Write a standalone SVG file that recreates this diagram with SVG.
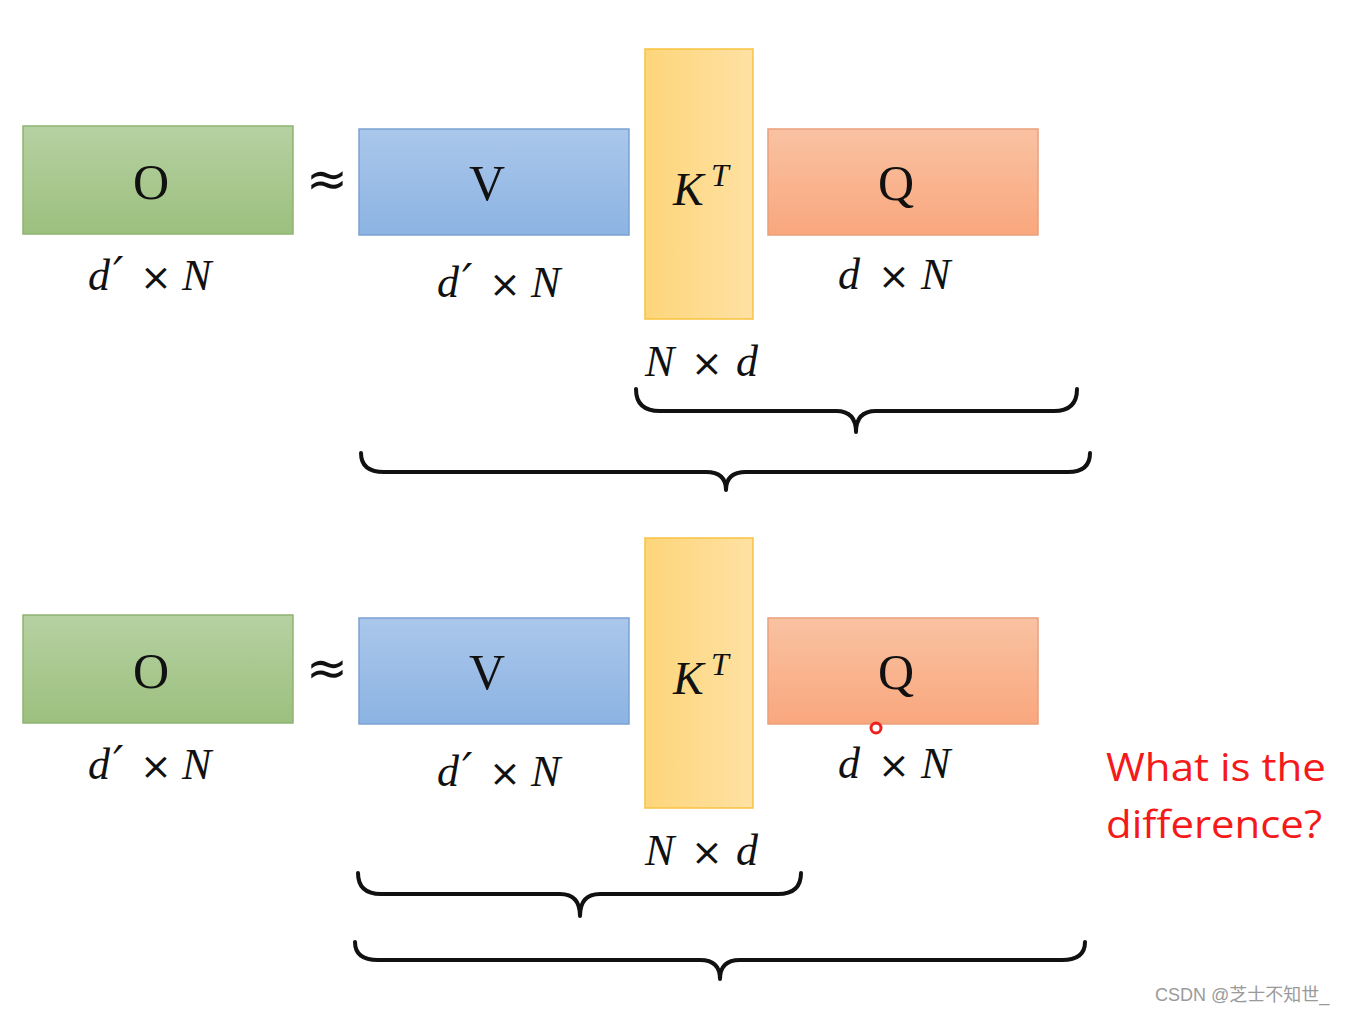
<svg xmlns="http://www.w3.org/2000/svg" width="1352" height="1013" viewBox="0 0 1352 1013">
<defs>
<linearGradient id="gG" x1="0" y1="0" x2="0" y2="1"><stop offset="0" stop-color="#b6d1a2"/><stop offset="1" stop-color="#9cc07e"/></linearGradient>
<linearGradient id="gB" x1="0" y1="0" x2="0" y2="1"><stop offset="0" stop-color="#aac7eb"/><stop offset="1" stop-color="#8cb3e2"/></linearGradient>
<linearGradient id="gY" x1="0" y1="0" x2="1" y2="0"><stop offset="0" stop-color="#fdd57a"/><stop offset="1" stop-color="#fee1a3"/></linearGradient>
<linearGradient id="gO" x1="0" y1="0" x2="0" y2="1"><stop offset="0" stop-color="#f9c2a2"/><stop offset="1" stop-color="#f9a77d"/></linearGradient>
</defs>
<style>
.g{fill:url(#gG);stroke:#8fb472;stroke-width:1.5}
.b{fill:url(#gB);stroke:#7aa2d2;stroke-width:1.5}
.y{fill:url(#gY);stroke:#f7c340;stroke-width:1.5}
.o{fill:url(#gO);stroke:#e9a07c;stroke-width:1.5}
.big{font-family:"Liberation Serif","DejaVu Serif",serif;font-size:50px;fill:#111;text-anchor:middle}
.ap{font-family:"DejaVu Sans","Liberation Serif",serif;font-size:50px;fill:#111;text-anchor:middle}
.it{font-family:"Liberation Serif","DejaVu Serif",serif;font-style:italic;font-size:46px;fill:#111}
.dim{font-family:"Liberation Serif","DejaVu Serif",serif;font-style:italic;font-size:44px;fill:#111}
.x{font-family:"DejaVu Sans","Liberation Sans",sans-serif;font-style:normal;font-size:38px}
.pr{font-family:"DejaVu Serif","Liberation Serif",serif;font-style:italic;font-size:46px}
.br{fill:none;stroke:#111;stroke-width:4;stroke-linecap:round;stroke-linejoin:round}
.red{font-family:"Open Sans","Liberation Sans",sans-serif;font-size:39px;fill:#f51a1a}
.wm{font-family:"Liberation Sans","Noto Sans CJK SC",sans-serif;font-size:18px;fill:#9a9a9a}
</style>
<rect width="1352" height="1013" fill="#ffffff"/>

<g id="top-O"><rect class="g" x="23" y="126" width="270" height="108"/><text class="big" x="151" y="199">O</text><text class="dim" y="290"><tspan x="88">d</tspan><tspan class="pr" x="113">′</tspan><tspan class="x" x="140">×</tspan><tspan x="182">N</tspan></text></g>
<g id="top-approx"><text class="ap" x="327" y="196">≈</text></g>
<g id="top-V"><rect class="b" x="359" y="129" width="270" height="106"/><text class="big" x="487" y="200">V</text><text class="dim" y="297"><tspan x="437">d</tspan><tspan class="pr" x="462">′</tspan><tspan class="x" x="489">×</tspan><tspan x="531">N</tspan></text></g>
<g id="top-K"><rect class="y" x="645" y="49" width="108" height="270"/><text class="it" x="673" y="205">K</text><text class="it" x="711" y="186" style="font-size:32px">T</text><text class="dim" y="376"><tspan x="645">N</tspan><tspan class="x" x="691">×</tspan><tspan x="736">d</tspan></text></g>
<g id="top-Q"><rect class="o" x="768" y="129" width="270" height="106"/><text class="big" x="896" y="200">Q</text><text class="dim" y="289"><tspan x="838">d</tspan><tspan class="x" x="878">×</tspan><tspan x="921">N</tspan></text></g>

<g id="bot-O"><rect class="g" x="23" y="615" width="270" height="108"/><text class="big" x="151" y="688">O</text><text class="dim" y="779"><tspan x="88">d</tspan><tspan class="pr" x="113">′</tspan><tspan class="x" x="140">×</tspan><tspan x="182">N</tspan></text></g>
<g id="bot-approx"><text class="ap" x="327" y="685">≈</text></g>
<g id="bot-V"><rect class="b" x="359" y="618" width="270" height="106"/><text class="big" x="487" y="689">V</text><text class="dim" y="786"><tspan x="437">d</tspan><tspan class="pr" x="462">′</tspan><tspan class="x" x="489">×</tspan><tspan x="531">N</tspan></text></g>
<g id="bot-K"><rect class="y" x="645" y="538" width="108" height="270"/><text class="it" x="673" y="694">K</text><text class="it" x="711" y="675" style="font-size:32px">T</text><text class="dim" y="865"><tspan x="645">N</tspan><tspan class="x" x="691">×</tspan><tspan x="736">d</tspan></text></g>
<g id="bot-Q"><rect class="o" x="768" y="618" width="270" height="106"/><text class="big" x="896" y="689">Q</text><text class="dim" y="778"><tspan x="838">d</tspan><tspan class="x" x="878">×</tspan><tspan x="921">N</tspan></text></g>

<g id="connectors">
<path class="br" d="M636,389 Q636,411 660,411 L836,411 Q856,411 856,432 Q856,411 876,411 L1054,411 Q1077,411 1077,389"/>
<path class="br" d="M361,453 Q361,472 384,472 L706,472 Q726,472 726,490 Q726,472 746,472 L1068,472 Q1090,472 1090,453"/>
<path class="br" d="M358,873 Q358,894 381,894 L560,894 Q580,894 580,916 Q580,894 600,894 L778,894 Q801,894 801,873"/>
<path class="br" d="M355,942 Q355,960 378,960 L700,960 Q720,960 720,979 Q720,960 740,960 L1062,960 Q1085,960 1085,942"/>
</g>

<g id="pointer"><circle cx="876" cy="728" r="5" fill="none" stroke="#f02020" stroke-width="3"/></g>
<g id="question"><text class="red" x="1106" y="781" textLength="220" lengthAdjust="spacingAndGlyphs">What is the</text><text class="red" x="1106" y="838" textLength="216" lengthAdjust="spacingAndGlyphs">difference?</text></g>
<g id="watermark"><text class="wm" x="1155" y="1001">CSDN @芝士不知世_</text></g>
</svg>
